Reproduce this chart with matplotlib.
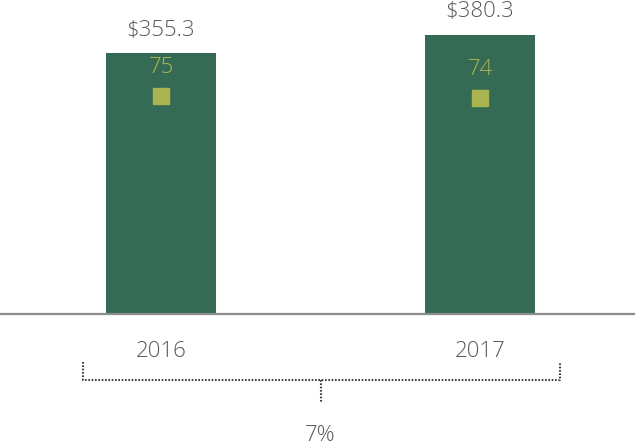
import matplotlib
matplotlib.use('Agg')
import matplotlib.pyplot as plt

years = ['2016', '2017']
revenue = [355.3, 380.3]
score = [75, 74]
growth_label = '7%'

bar_color = '#356b54'
marker_color = '#aab552'
text_gray = '#595959'

plt.rcParams['font.family'] = ['Open Sans', 'DejaVu Sans']
plt.rcParams['font.weight'] = 'light'

W, H = 635, 446
base_px = 314.3
fig = plt.figure(figsize=(W / 100, H / 100), dpi=100)
ax = fig.add_axes([0, (H - base_px) / H, 1, base_px / H])

x = [0, 1]
bars = ax.bar(x, revenue, width=0.345, color=bar_color, zorder=2)
ax.set_xlim(-161 / 319, (W - 161) / 319)
ax.set_ylim(0, 427.4)
ax.axhline(0, color='#8c8c8c', lw=1.6, clip_on=False, zorder=3)

for xi, v in zip(x, revenue):
    ax.annotate(f'${v:.1f}', (xi, v), xytext=(0, 16.5), textcoords='offset points',
                ha='center', va='center', fontsize=16, color=text_gray)

ax.set_xticks(x)
ax.set_xticklabels(years, fontsize=16, color=text_gray)
ax.tick_params(axis='x', length=0, pad=19)
ax.set_yticks([])
for s in ax.spines.values():
    s.set_visible(False)

# secondary scale for the score markers
ax2 = ax.twinx()
ax2.set_ylim(-12.5, 113.2)
ax2.plot(x, score, 's', ms=12.2, color=marker_color, ls='none', zorder=4)
for xi, v in zip(x, score):
    ax2.annotate(str(v), (xi, v), xytext=(0, 20.5), textcoords='offset points',
                 ha='center', va='center', fontsize=16, color=marker_color)
ax2.set_yticks([])
for s in ax2.spines.values():
    s.set_visible(False)

# growth bracket under the years
tr = ax.get_xaxis_transform()
xl, xr, xm = -0.2445, 1.251, 0.5
y_top, y_mid, y_bot = -0.152, -0.209, -0.279
line_kw = dict(color='#404040', lw=1.5, ls=(0, (0.8, 0.8)), transform=tr, clip_on=False)
ax.plot([xl, xl, xr, xr], [y_top, y_mid, y_mid, y_top], **line_kw)
ax.plot([xm, xm], [y_mid, y_bot], **line_kw)
ax.text(xm, -0.387, growth_label, transform=tr, ha='center', va='center',
        fontsize=16, color=text_gray)

fig.savefig('out.png', dpi=100)
